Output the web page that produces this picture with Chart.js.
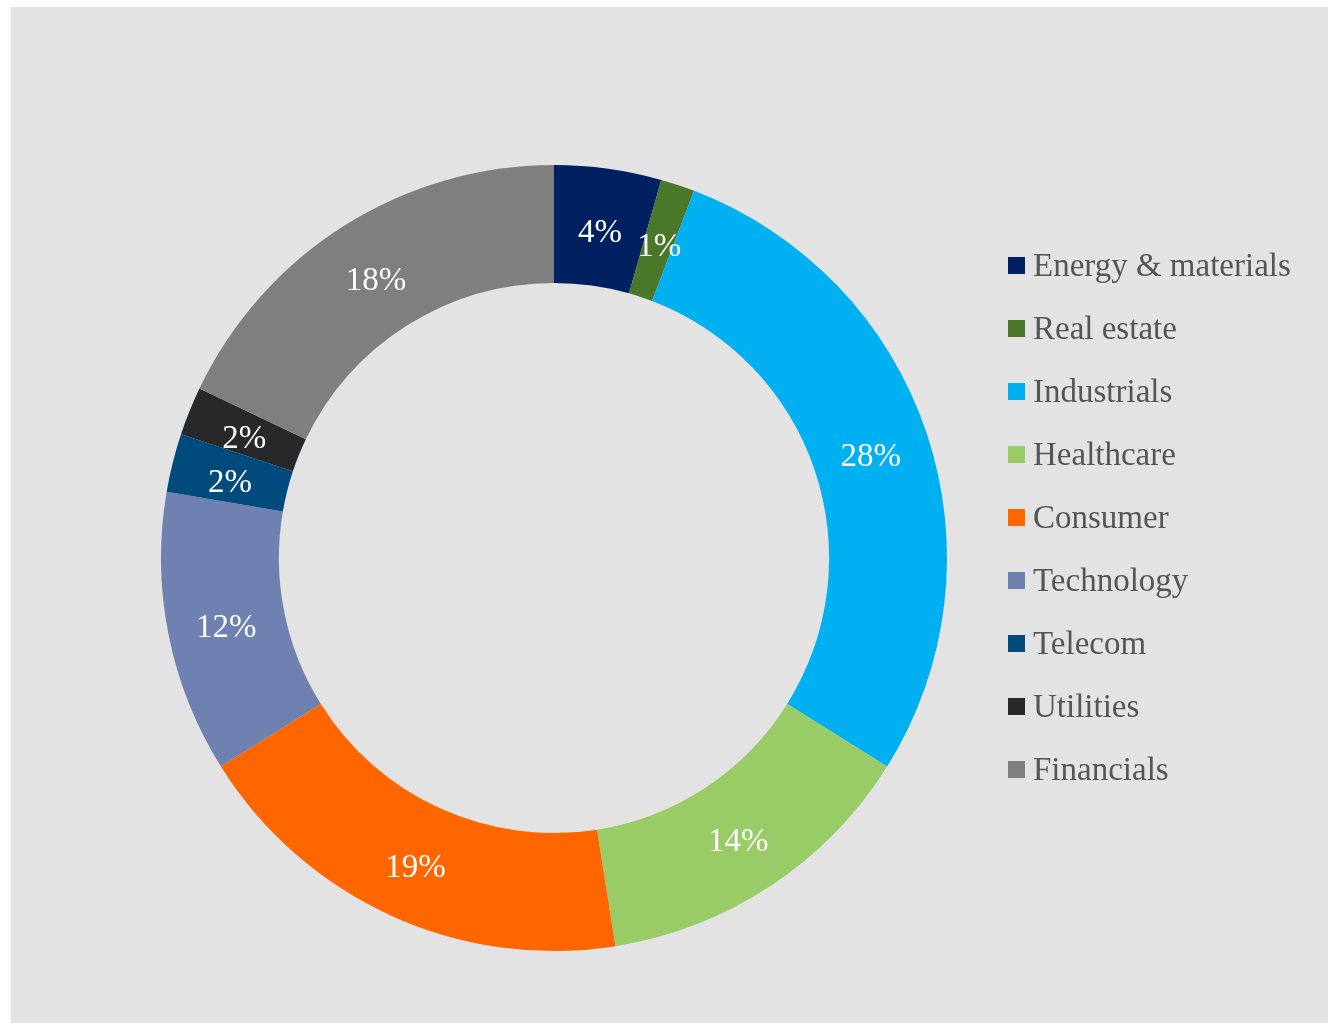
<!DOCTYPE html>
<html>
<head>
<meta charset="utf-8">
<script src="https://cdn.jsdelivr.net/npm/chart.js@4.4.1/dist/chart.umd.min.js"></script>
<style>
    body { margin: 0; background: #ffffff; }
    #wrap { position: absolute; left: 11px; top: 7px; width: 1317px; height: 1016px; background: #e3e3e3; }
    #legend { position: absolute; left: 997px; top: 241px; margin: 0; padding: 0; list-style: none;
              font-family: "Liberation Serif", serif; font-size: 33px; color: #555555; }
    #legend li { height: 63px; display: flex; align-items: flex-start; white-space: nowrap; }
    #legend .box { width: 17px; height: 17px; margin-top: 9px; margin-right: 8px; flex: none; }
    #legend .txt { line-height: 34px; }
</style>
</head>
<body>
<div id="wrap">
    <canvas id="sectorChart"></canvas>
    <ul id="legend"></ul>
</div>
<script>
// Sector weights (%)
const sectors = ['Energy & materials', 'Real estate', 'Industrials', 'Healthcare', 'Consumer',
    'Technology', 'Telecom', 'Utilities', 'Financials'];
const weights = [4.4, 1.4, 28.1, 13.6, 18.6, 11.6, 2.4, 2.0, 17.9];
const sectorColors = ['#002060', '#4a7729', '#00b0f0', '#99cc66', '#ff6600',
    '#6f81b0', '#004a7c', '#27282a', '#7f7f7f'];

// Writes the rounded percentage in the middle of each ring segment
const sliceLabels = {
    id: 'sliceLabels',
    afterDatasetsDraw(chart) {
        const ctx = chart.ctx;
        const meta = chart.getDatasetMeta(0);
        ctx.save();
        ctx.font = '33px "Liberation Serif", serif';
        ctx.fillStyle = '#ffffff';
        ctx.textAlign = 'center';
        ctx.textBaseline = 'middle';
        meta.data.forEach((arc, i) => {
            const pos = arc.tooltipPosition();
            ctx.fillText(Math.round(weights[i]) + '%', pos.x, pos.y + 6);
        });
        ctx.restore();
    }
};

const ctx = document.getElementById('sectorChart').getContext('2d');
const sectorChart = new Chart(ctx, {
    type: 'doughnut',
    data: {
        labels: sectors,
        datasets: [{
            data: weights,
            backgroundColor: sectorColors,
            borderWidth: 0
        }]
    },
    options: {
        responsive: true,
        maintainAspectRatio: false,
        animation: false,
        cutout: '70%',
        layout: {
            padding: { left: 150, top: 158, right: 381, bottom: 72 }
        },
        plugins: {
            legend: { display: false },
            tooltip: { enabled: false }
        }
    },
    plugins: [sliceLabels]
});

// HTML legend from the chart's own legend items
const legendList = document.getElementById('legend');
sectorChart.options.plugins.legend.labels.generateLabels(sectorChart).forEach(item => {
    const li = document.createElement('li');
    li.innerHTML = `<span class="box" style="background:${item.fillStyle}"></span><span class="txt">${item.text}</span>`;
    legendList.appendChild(li);
});
</script>
</body>
</html>
